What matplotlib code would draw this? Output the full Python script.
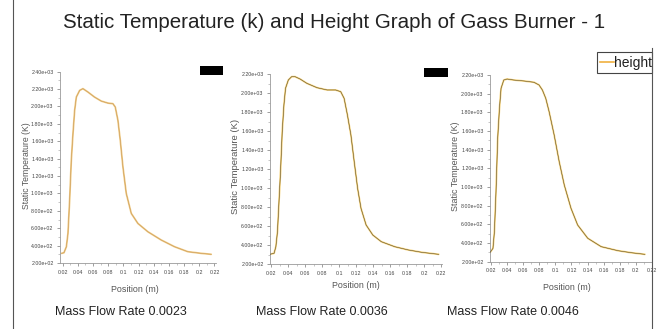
import matplotlib
matplotlib.use("Agg")
import matplotlib.pyplot as plt
from matplotlib.ticker import FixedLocator, AutoMinorLocator
from matplotlib.patches import Rectangle
from matplotlib.lines import Line2D

plt.rcParams['font.family'] = ['Liberation Sans', 'DejaVu Sans']

# ---------------- data ----------------
title = "Static Temperature (k) and Height Graph of Gass Burner - 1"
panel_titles = ["Mass Flow Rate 0.0023", "Mass Flow Rate 0.0036", "Mass Flow Rate 0.0046"]
x_label = "Position (m)"
y_label = "Static Temperature (K)"
legend_label = "height"

pos1 = [0.0185, 0.0217, 0.0249, 0.027, 0.0292, 0.0314, 0.0336, 0.0358, 0.038, 0.0424, 0.0467,
        0.0533, 0.062, 0.0709, 0.0796, 0.0862, 0.0893, 0.0928, 0.0959, 0.0994, 0.1038, 0.1104,
        0.1191, 0.1323, 0.1499, 0.1674, 0.1849, 0.2025, 0.2157]
temp1 = [311, 318, 387, 541, 923, 1382, 1688, 1955, 2108, 2185, 2205,
         2166, 2108, 2062, 2039, 2032, 1994, 1841, 1611, 1305, 1000, 770,
         655, 559, 464, 387, 330, 311, 300]

pos2 = [0.0181, 0.0232, 0.0253, 0.0272, 0.0292, 0.0308, 0.0328, 0.0348, 0.0367, 0.04, 0.0439,
        0.0479, 0.0539, 0.0618, 0.0738, 0.0857, 0.0957, 0.1017, 0.1057, 0.1096, 0.1137, 0.1176,
        0.1216, 0.1256, 0.1316, 0.1395, 0.1495, 0.1654, 0.1813, 0.1973, 0.2171]
temp2 = [305, 316, 385, 543, 895, 1175, 1596, 1877, 2053, 2140, 2175,
         2175, 2150, 2105, 2059, 2035, 2035, 2017, 1947, 1772, 1561, 1280,
         1000, 789, 614, 508, 438, 385, 351, 326, 305]

pos3 = [0.0185, 0.022, 0.0238, 0.0258, 0.0279, 0.0301, 0.0321, 0.0355, 0.0396, 0.048, 0.0606,
        0.0732, 0.0795, 0.0837, 0.0879, 0.0921, 0.0984, 0.1047, 0.111, 0.1194, 0.1277, 0.1403,
        0.1571, 0.178, 0.1948, 0.2116]
temp3 = [300, 343, 521, 950, 1522, 1843, 2057, 2146, 2157, 2146, 2136,
         2122, 2093, 2039, 1950, 1807, 1557, 1271, 1022, 772, 593, 451,
         361, 318, 296, 279]

x_ticks = [0.02, 0.04, 0.06, 0.08, 0.1, 0.12, 0.14, 0.16, 0.18, 0.2, 0.22]
x_tick_labels = ["0.02", "0.04", "0.06", "0.08", "0.1", "0.12", "0.14", "0.16", "0.18", "0.2", "0.22"]
y_ticks1 = [200, 400, 600, 800, 1000, 1200, 1400, 1600, 1800, 2000, 2200, 2400]
y_ticks23 = [200, 400, 600, 800, 1000, 1200, 1400, 1600, 1800, 2000, 2200]

# ---------------- layout ----------------
W, H = 658, 329
fig = plt.figure(figsize=(W / 100, H / 100), dpi=100)
fig.patch.set_facecolor("white")


def fbox(l, t, r, b):
    return [l / W, 1 - b / H, (r - l) / W, (b - t) / H]


panels = [
    dict(x=pos1, y=temp1, yt=y_ticks1, ylim=(200, 2400), box=fbox(60, 71.7, 216, 263),
         xlim=(0.0165, 0.222), dark=False, ylab_x=27, xlab=(135, 290), ylab_fs=6.2),
    dict(x=pos2, y=temp2, yt=y_ticks23, ylim=(200, 2200), box=fbox(270, 74.3, 442, 264.3),
         xlim=(0.0184, 0.221), dark=True, ylab_x=236, xlab=(356, 285), ylab_fs=6.8),
    dict(x=pos3, y=temp3, yt=y_ticks23, ylim=(200, 2200), box=fbox(490, 75, 652, 261.7),
         xlim=(0.0183, 0.2205), dark=True, ylab_x=455, xlab=(567, 288), ylab_fs=6.4),
]

for p in panels:
    ax = fig.add_axes(p["box"])
    if p["dark"]:
        ax.plot(p["x"], p["y"], color="#f5d27a", lw=1.3, solid_capstyle="round", zorder=2)
        ax.plot(p["x"], p["y"], color="#4a4028", lw=0.35, zorder=3)
    else:
        ax.plot(p["x"], p["y"], color="#f0cc88", lw=1.3, solid_capstyle="round", zorder=2)
        ax.plot(p["x"], p["y"], color="#c89858", lw=0.4, zorder=3)
    ax.set_xlim(*p["xlim"])
    ax.set_ylim(*p["ylim"])
    ax.xaxis.set_major_locator(FixedLocator(x_ticks))
    ax.set_xticklabels(x_tick_labels)
    ax.yaxis.set_major_locator(FixedLocator(p["yt"]))
    ax.set_yticklabels([f"{v:.2e}" for v in p["yt"]])
    ax.xaxis.set_minor_locator(AutoMinorLocator(2))
    ax.yaxis.set_minor_locator(AutoMinorLocator(2))
    for s in ["top", "right"]:
        ax.spines[s].set_visible(False)
    for s in ["left", "bottom"]:
        ax.spines[s].set_color("#9a9a9a")
        ax.spines[s].set_linewidth(0.6)
    ax.tick_params(which="major", length=2.2, width=0.5, color="#777777",
                   labelsize=3.8, labelcolor="#444444", pad=2.5)
    ax.tick_params(which="minor", length=1.2, width=0.4, color="#999999")
    ax.set_facecolor("white")
    fig.text(p["ylab_x"] / W, 1 - 166 / H, y_label, rotation=90, ha="center", va="center",
             fontsize=p["ylab_fs"], color="#555555")
    fig.text(p["xlab"][0] / W, 1 - p["xlab"][1] / H, x_label, ha="center", va="center",
             fontsize=6.4, color="#555555")

# titles
fig.text(334 / W, 1 - 22 / H, title, ha="center", va="center", fontsize=14.8, color="#222222")
for cx, t in zip([121, 322, 513], panel_titles):
    fig.text(cx / W, 1 - 312 / H, t, ha="center", va="center", fontsize=9, color="#222222")

# frame lines
fig.add_artist(Line2D([13 / W, 13 / W], [0, 1], transform=fig.transFigure, color="#555555", lw=0.8))
fig.add_artist(Line2D([652 / W, 652 / W], [0, 1 - 48 / H], transform=fig.transFigure,
                      color="#555555", lw=0.8))

# black blocks
for (l, t, r, b) in [(200, 66, 223, 75), (424, 68, 448, 77)]:
    fig.add_artist(Rectangle((l / W, 1 - b / H), (r - l) / W, (b - t) / H,
                             transform=fig.transFigure, facecolor="black", edgecolor="none"))

# legend box
fig.add_artist(Rectangle((597 / W, 1 - 73 / H), 55 / W, 21 / H, transform=fig.transFigure,
                         facecolor="white", edgecolor="#444444", lw=0.8))
fig.add_artist(Line2D([600 / W, 614 / W], [1 - 62 / H, 1 - 62 / H], transform=fig.transFigure,
                      color="#f0b040", lw=1.2))
fig.text(614 / W, 1 - 62.5 / H, legend_label, ha="left", va="center", fontsize=10,
         color="#222222")

fig.savefig("out.png", dpi=100, facecolor="white")
